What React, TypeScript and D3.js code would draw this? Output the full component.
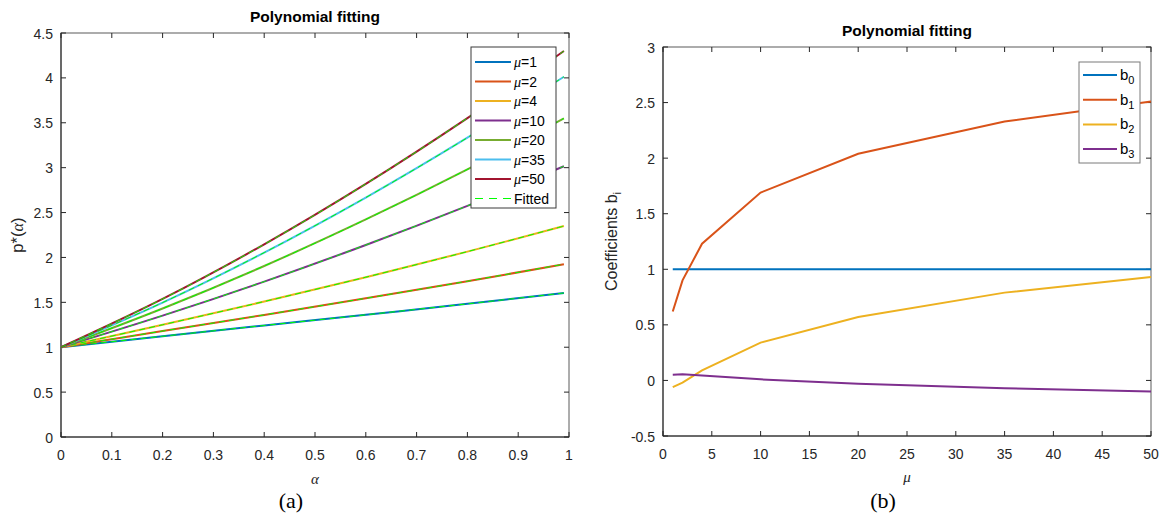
import React from 'react';
import * as d3 from 'd3';

// ---------- data ----------
const alphaGrid = [0, 0.2, 0.4, 0.6, 0.8, 0.99];
const muLabels = ['1', '2', '4', '10', '20', '35', '50'];
const pMu1 = [1, 1.122, 1.242, 1.361, 1.483, 1.604];
const pMu2 = [1, 1.18, 1.36, 1.545, 1.735, 1.925];
const pMu4 = [1, 1.25, 1.509, 1.78, 2.065, 2.35];
const pMu10 = [1, 1.352, 1.731, 2.139, 2.575, 3.016];
const pMu20 = [1, 1.431, 1.905, 2.423, 2.981, 3.549];
const pMu35 = [1, 1.497, 2.054, 2.667, 3.334, 4.013];
const pMu50 = [1, 1.538, 2.146, 2.819, 3.552, 4.299];
const pSeries = [pMu1, pMu2, pMu4, pMu10, pMu20, pMu35, pMu50];

const muValues = [1, 2, 4, 10, 20, 35, 50];
const b0 = [1, 1, 1, 1, 1, 1, 1];
const b1 = [0.62, 0.9, 1.23, 1.69, 2.04, 2.33, 2.51];
const b2 = [-0.06, -0.02, 0.09, 0.34, 0.57, 0.79, 0.93];
const b3 = [0.05, 0.055, 0.045, 0.01, -0.03, -0.07, -0.1];
const bSeries = [b0, b1, b2, b3];
const bLabels = ['0', '1', '2', '3'];

const alphaTicks = [0, 0.1, 0.2, 0.3, 0.4, 0.5, 0.6, 0.7, 0.8, 0.9, 1];
const pTicks = [0, 0.5, 1, 1.5, 2, 2.5, 3, 3.5, 4, 4.5];
const muTicks = [0, 5, 10, 15, 20, 25, 30, 35, 40, 45, 50];
const bTicks = [-0.5, 0, 0.5, 1, 1.5, 2, 2.5, 3];

const colors = ['#0072BD', '#D95319', '#EDB120', '#7E2F8E', '#77AC30', '#4DBEEE', '#A2142F'];
const fitColor = '#00FF00';

const SANS = '"Liberation Sans", Arial, Helvetica, sans-serif';
const SERIF = '"Liberation Serif", "DejaVu Serif", serif';
const TXT = '#262626';

function fmt(v: number) {
  return String(+v.toFixed(2));
}

function Axes({ box, xs, ys, xt, yt }: any) {
  const tl = 5;
  return (
    <g>
      <rect x={box.left} y={box.top} width={box.right - box.left} height={box.bottom - box.top} fill="none" stroke="#5a5a5a" strokeWidth={1} />
      <line x1={box.left} x2={box.right} y1={box.bottom} y2={box.bottom} stroke={TXT} />
      <line x1={box.left} x2={box.left} y1={box.top} y2={box.bottom} stroke={TXT} />
      {xt.map((t: number) => (
        <g key={'x' + t}>
          <line x1={xs(t)} x2={xs(t)} y1={box.bottom} y2={box.bottom - tl} stroke={TXT} />
          <line x1={xs(t)} x2={xs(t)} y1={box.top} y2={box.top + tl} stroke={TXT} />
          <text x={xs(t)} y={box.bottom + 23} textAnchor="middle" fontSize={14} fill={TXT} fontFamily={SANS}>{fmt(t)}</text>
        </g>
      ))}
      {yt.map((t: number) => (
        <g key={'y' + t}>
          <line x1={box.left} x2={box.left + tl} y1={ys(t)} y2={ys(t)} stroke={TXT} />
          <line x1={box.right} x2={box.right - tl} y1={ys(t)} y2={ys(t)} stroke={TXT} />
          <text x={box.left - 8} y={ys(t) + 5.5} textAnchor="end" fontSize={14} fill={TXT} fontFamily={SANS}>{fmt(t)}</text>
        </g>
      ))}
    </g>
  );
}

export default function App() {
  const L = { left: 61, right: 569, top: 33, bottom: 437 };
  const R = { left: 663, right: 1151, top: 47, bottom: 436 };
  const xa = d3.scaleLinear().domain([0, 1]).range([L.left, L.right]);
  const ya = d3.scaleLinear().domain([0, 4.5]).range([L.bottom, L.top]);
  const xm = d3.scaleLinear().domain([0, 50]).range([R.left, R.right]);
  const yb = d3.scaleLinear().domain([-0.5, 3]).range([R.bottom, R.top]);

  const lineA = d3.line<number>().x((_, i) => xa(alphaGrid[i])).y((d) => ya(d)).curve(d3.curveCatmullRom);
  const lineB = d3.line<number>().x((_, i) => xm(muValues[i])).y((d) => yb(d));

  const lcx = (L.left + L.right) / 2;
  const rcx = (R.left + R.right) / 2;

  return (
    <svg width={1163} height={518} style={{ position: 'absolute', left: 0, top: 0, background: '#fff' }}>
      <rect x={0} y={0} width={1163} height={518} fill="#fff" />
      {/* ---------- left panel ---------- */}
      <Axes box={L} xs={xa} ys={ya} xt={alphaTicks} yt={pTicks} />
      {pSeries.map((s, i) => (
        <g key={'p' + i}>
          <path d={lineA(s) || ''} fill="none" stroke={colors[i]} strokeWidth={2} />
          <path d={lineA(s) || ''} fill="none" stroke={fitColor} strokeWidth={1} strokeDasharray="6 4" />
        </g>
      ))}
      <text x={lcx} y={22} textAnchor="middle" fontSize={15.5} fontWeight="bold" fill="#000" fontFamily={SANS}>Polynomial fitting</text>
      <text transform={`translate(23, ${(L.top + L.bottom) / 2}) rotate(-90)`} textAnchor="middle" fontSize={16.5} fill={TXT} fontFamily={SANS}>
        p*(<tspan fontFamily={SERIF} fontStyle="italic">α</tspan>)
      </text>
      <text x={lcx} y={484} textAnchor="middle" fontSize={15} fontStyle="italic" fill={TXT} fontFamily={SERIF}>α</text>
      <text x={291} y={508} textAnchor="middle" fontSize={22} fill="#000" fontFamily={SERIF}>(a)</text>
      {/* left legend */}
      <g>
        <rect x={471} y={47} width={85} height={161} fill="#fff" stroke="#3a3a3a" strokeWidth={1} />
        {muLabels.map((m, i) => (
          <g key={'lg' + i}>
            <line x1={475} x2={511} y1={62 + i * 19.5} y2={62 + i * 19.5} stroke={colors[i]} strokeWidth={2} />
            <text x={514} y={62 + i * 19.5 + 5} fontSize={14} fill="#000" fontFamily={SANS}>
              <tspan fontFamily={SERIF} fontStyle="italic">μ</tspan>={m}
            </text>
          </g>
        ))}
        <line x1={475} x2={511} y1={62 + 7 * 19.5} y2={62 + 7 * 19.5} stroke={fitColor} strokeWidth={1} strokeDasharray="8 6" />
        <text x={514} y={62 + 7 * 19.5 + 5} fontSize={14} fill="#000" fontFamily={SANS}>Fitted</text>
      </g>

      {/* ---------- right panel ---------- */}
      <Axes box={R} xs={xm} ys={yb} xt={muTicks} yt={bTicks} />
      {bSeries.map((s, i) => (
        <path key={'b' + i} d={lineB(s) || ''} fill="none" stroke={colors[i]} strokeWidth={2} />
      ))}
      <text x={rcx} y={36} textAnchor="middle" fontSize={15.5} fontWeight="bold" fill="#000" fontFamily={SANS}>Polynomial fitting</text>
      <text transform={`translate(617, ${(R.top + R.bottom) / 2}) rotate(-90)`} textAnchor="middle" fontSize={16} fill={TXT} fontFamily={SANS}>
        Coefficients b<tspan fontSize={11} dy={4}>i</tspan>
      </text>
      <text x={rcx} y={482} textAnchor="middle" fontSize={15} fontStyle="italic" fill={TXT} fontFamily={SERIF}>μ</text>
      <text x={883} y={508} textAnchor="middle" fontSize={22} fill="#000" fontFamily={SERIF}>(b)</text>
      {/* right legend */}
      <g>
        <rect x={1079} y={62} width={61} height={101} fill="#fff" stroke="#7a7a7a" strokeWidth={1} />
        {bLabels.map((b, i) => (
          <g key={'rg' + i}>
            <line x1={1083} x2={1117} y1={75 + i * 24.7} y2={75 + i * 24.7} stroke={colors[i]} strokeWidth={2} />
            <text x={1120} y={75 + i * 24.7 + 5} fontSize={15} fill="#000" fontFamily={SANS}>
              b<tspan fontSize={11} dy={4}>{b}</tspan>
            </text>
          </g>
        ))}
      </g>
    </svg>
  );
}
